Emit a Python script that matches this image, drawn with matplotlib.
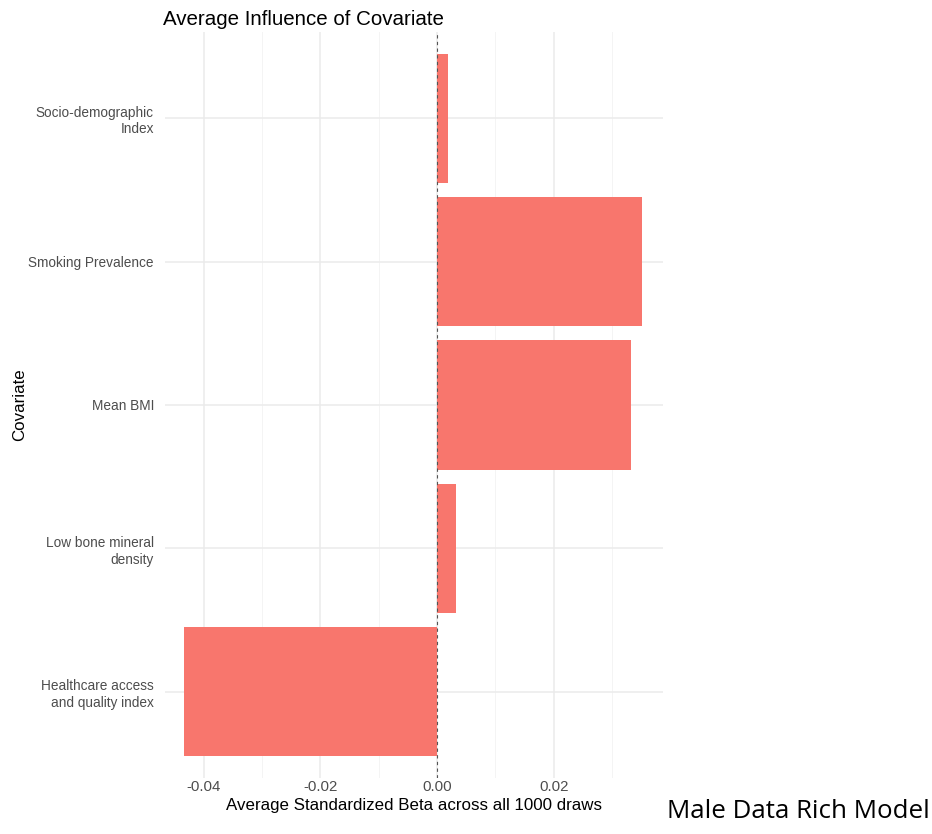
import numpy as np
import matplotlib
matplotlib.use("Agg")
import matplotlib.pyplot as plt

# data (bottom to top, as ggplot orders factors)
covariates = ["Healthcare access\nand quality index",
              "Low bone mineral\ndensity",
              "Mean BMI",
              "Smoking Prevalence",
              "Socio-demographic\nIndex"]
avg_beta = [-0.0434, 0.0032, 0.0333, 0.0351, 0.0019]
x_ticks = [-0.04, -0.02, 0.00, 0.02]
x_tick_labels = ["-0.04", "-0.02", "0.00", "0.02"]

plt.rcParams['font.family'] = ['Liberation Sans', 'DejaVu Sans']

W, H = 932, 834
fig = plt.figure(figsize=(W / 100, H / 100), dpi=100)
ax = fig.add_axes([165 / W, 1 - 778 / H, (663 - 165) / W, (778 - 32) / H])

ypos = np.arange(len(covariates))
ax.barh(ypos, avg_beta, height=0.9, color="#F8766D", zorder=2)
ax.axvline(0, color="#555555", linestyle=(0, (3, 3)), linewidth=0.8, zorder=3)

ax.set_xlim(-0.0466, 0.0387)
ax.set_ylim(-0.6, len(covariates) - 1 + 0.6)

# theme_minimal style grid
ax.set_xticks(x_ticks)
ax.set_xticklabels(x_tick_labels)
ax.set_xticks([-0.03, -0.01, 0.01, 0.03], minor=True)
ax.set_yticks(ypos)
ax.set_yticklabels(covariates, ha="right", linespacing=1.25)
ax.grid(which="major", color="#EBEBEB", linewidth=1.1, zorder=0)
ax.grid(which="minor", axis="x", color="#F2F2F2", linewidth=0.6, zorder=0)
ax.set_axisbelow(True)
for s in ax.spines.values():
    s.set_visible(False)
ax.tick_params(axis="both", which="both", length=0, colors="#4D4D4D")
ax.tick_params(axis="x", labelsize=10.8, pad=1.5)
ax.tick_params(axis="y", labelsize=9.8, pad=8)

ax.set_xlabel("Average Standardized Beta across all 1000 draws",
              fontsize=12.2, color="black", labelpad=3)
ax.set_ylabel("Covariate", fontsize=12.2, color="black", labelpad=1)
ax.set_title("Average Influence of Covariate", fontsize=14.8,
             loc="left", x=-0.005, pad=5)

fig.text(930 / W, 1 - 812 / H, "Male Data Rich Model", ha="right",
         va="center", fontsize=18.6, family=["Open Sans", "DejaVu Sans"])

fig.savefig("out.png", dpi=100)
